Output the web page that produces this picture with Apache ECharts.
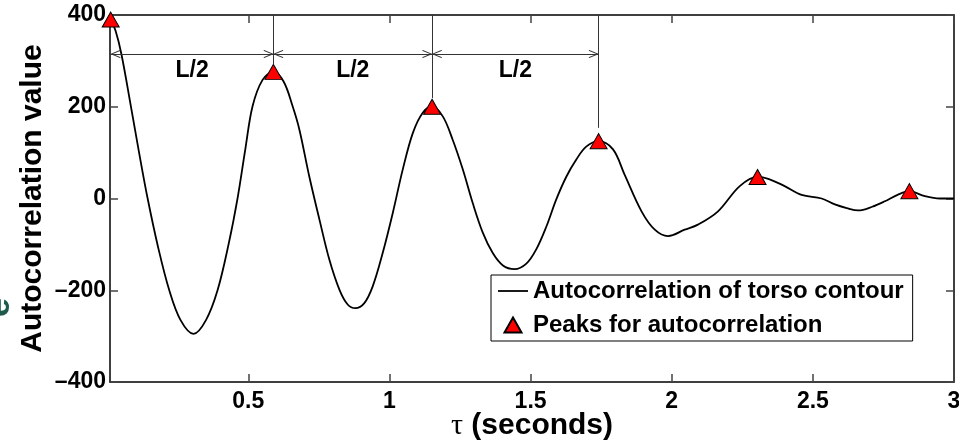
<!DOCTYPE html>
<html><head><meta charset="utf-8">
<script src="https://cdn.jsdelivr.net/npm/echarts@6/dist/echarts.min.js"></script>
<style>html,body{margin:0;padding:0;background:#fff;overflow:hidden}#c{width:959px;height:441px}</style>
</head><body><div id="c"></div>
<script>
// ---- data ----
const tauValues = [0.0125,0.03,0.0507,0.084,0.113,0.143,0.18,0.22,0.26,0.306,0.35,0.391,0.43,0.462,0.49,0.515,0.55,0.589,0.625,0.657,0.681,0.716,0.752,0.787,0.823,0.852,0.879,0.911,0.941,0.976,1.012,1.047,1.083,1.118,1.151,1.189,1.224,1.26,1.295,1.331,1.366,1.402,1.443,1.485,1.52,1.556,1.591,1.627,1.662,1.697,1.741,1.792,1.833,1.893,1.94,1.987,2.046,2.093,2.164,2.241,2.304,2.342,2.4,2.46,2.531,2.578,2.62,2.661,2.71,2.755,2.8,2.841,2.897,2.95,3.0];
const autocorrValues = [390,365,314,201,100,1,-105,-200,-265,-295,-265,-200,-100,1,110,201,258,276,255,201,150,48,-46,-133,-199,-231,-239,-228,-191,-119,-31,63,143,187,200,179,128,63,-10,-75,-119,-146,-154,-142,-111,-61,-2,48,85,113,125,107,52,-28,-68,-82,-68,-57,-28,27,47,43,27,8,0,-13,-21,-26,-18,-6,8,16,5,0,0];
const peakTau = [0.0125,0.589,1.151,1.741,2.304,2.842];
const peakValues = [390,276,200,125,47,16];
const guideBottoms = [292,219,154];   // lower ends of the vertical guide lines (peaks 2-4)
const arrowLevel = 315;               // height of the L/2 arrows
const xTickValues = [0.5,1,1.5,2,2.5,3];
const yTickValues = [-400,-200,0,200,400];
const seriesNames = ['Autocorrelation of torso contour','Peaks for autocorrelation'];
const spanLabel = 'L/2';
const xName = '{t|τ} (seconds)';
const yName = 'Autocorrelation value';

// ---- chart ----
const FF = '"Liberation Sans", Arial, Helvetica, sans-serif';
const chart = echarts.init(document.getElementById('c'), null, {renderer:'canvas'});
const arrowPath = 'path://M5,-10 M5,0 L10,10 L9,10.8 L5,2.6 L1,10.8 L0,10 Z';
const legendLineIcon = 'path://M0,0 M30,15 M0,6.6 L30,6.6 L30,8.4 L0,8.4 Z';
const legendTriIcon = 'path://M0,0 M30,15 M6.5,15 L15,0 L23.5,15 Z';

const lineData = tauValues.map((t,i)=>[t, autocorrValues[i]]);
const peakData = peakTau.map((t,i)=>[t, peakValues[i]]);
const guideLines = guideBottoms.map((b,i)=>[{coord:[peakTau[i+1], yTickValues[yTickValues.length-1]]},{coord:[peakTau[i+1], b]}]);
const arrowLines = [0,1,2].map(i=>[{coord:[peakTau[i], arrowLevel]},{coord:[peakTau[i+1], arrowLevel]}]);

const fmtY = v => v < 0 ? '\u2013' + Math.abs(v) : String(v);
const baseX = {type:'value', min:0.01, max:3, splitLine:{show:false}};
const baseY = {type:'value', min:yTickValues[0], max:yTickValues[yTickValues.length-1], interval:200, splitLine:{show:false}};

chart.setOption({
  animation:false,
  backgroundColor:'#fff',
  grid:{left:110, right:5, top:15, bottom:59, containLabel:false, outerBoundsMode:'none'},
  xAxis:[
    Object.assign({}, baseX, {
      position:'bottom',
      axisLine:{show:true, onZero:false, lineStyle:{color:'#000', width:1.5}},
      axisTick:{show:true, inside:true, length:8, customValues:xTickValues, lineStyle:{color:'#444', width:1.5}},
      axisLabel:{show:true, customValues:xTickValues, margin:8, fontSize:23, fontWeight:'bold', color:'#000', fontFamily:FF, formatter:v=>String(v)},
      name:xName, nameLocation:'middle', nameGap:29, nameMoveOverlap:false,
      nameTextStyle:{fontSize:30, fontWeight:'bold', color:'#000', fontFamily:FF,
        rich:{t:{fontFamily:'"Liberation Serif", "DejaVu Serif", serif', fontWeight:'normal', fontSize:30, color:'#000'}}}
    }),
    Object.assign({}, baseX, {
      position:'top',
      axisLine:{show:true, onZero:false, lineStyle:{color:'#000', width:1.5}},
      axisTick:{show:true, inside:true, length:8, customValues:xTickValues, lineStyle:{color:'#444', width:1.5}},
      axisLabel:{show:false}
    })
  ],
  yAxis:[
    Object.assign({}, baseY, {
      position:'left',
      axisLine:{show:true, onZero:false, lineStyle:{color:'#000', width:1.5}},
      axisTick:{show:true, inside:true, length:8, lineStyle:{color:'#444', width:1.5}},
      axisLabel:{show:true, margin:4, fontSize:23, fontWeight:'bold', color:'#000', fontFamily:FF, formatter:fmtY},
      name:yName, nameLocation:'middle', nameGap:62, nameMoveOverlap:false,
      nameTextStyle:{fontSize:30, fontWeight:'bold', color:'#000', fontFamily:FF}
    }),
    Object.assign({}, baseY, {
      position:'right',
      axisLine:{show:true, onZero:false, lineStyle:{color:'#000', width:1.5}},
      axisTick:{show:true, inside:true, length:8, lineStyle:{color:'#444', width:1.5}},
      axisLabel:{show:false}
    })
  ],
  legend:{
    orient:'vertical', left:491, top:275, padding:[4,9,4,6], itemGap:10,
    itemWidth:30, itemHeight:15, selectedMode:false,
    borderColor:'#000', borderWidth:1, backgroundColor:'#fff',
    textStyle:{fontSize:24, fontWeight:'bold', color:'#000', fontFamily:FF},
    data:[{name:seriesNames[0], icon:legendLineIcon}, {name:seriesNames[1], icon:legendTriIcon}]
  },
  series:[
    {
      name:seriesNames[0], type:'line', data:lineData, xAxisIndex:0, yAxisIndex:0,
      smooth:0.35, symbol:'none', showSymbol:false,
      lineStyle:{color:'#000', width:1.8}, itemStyle:{color:'#000'},
      z:2,
      markLine:{
        silent:true, animation:false,
        symbol:[arrowPath, arrowPath], symbolSize:[8,20],
        lineStyle:{color:'#333', width:1, type:'solid'},
        itemStyle:{color:'#222'},
        label:{show:true, formatter:spanLabel, position:'insideMiddleBottom', distance:5,
               fontSize:23, fontWeight:'bold', color:'#000', fontFamily:FF},
        emphasis:{disabled:true},
        data:arrowLines
      }
    },
    {
      name:seriesNames[1], type:'scatter', data:peakData, xAxisIndex:0, yAxisIndex:0,
      symbol:'triangle', symbolSize:[17,15],
      itemStyle:{color:'#ff0000', borderColor:'#000', borderWidth:1, opacity:1},
      z:4,
      markLine:{
        silent:true, animation:false, symbol:'none',
        lineStyle:{color:'#333', width:1, type:'solid'},
        label:{show:false},
        emphasis:{disabled:true},
        data:guideLines
      }
    }
  ],
  graphic:[
    {type:'text', left:-17, top:298, rotation:Math.PI/2,
     style:{text:'e', font:'bold 34px "Liberation Sans", sans-serif', fill:'#1d5a4b'}}
  ]
});
</script>
</body></html>
